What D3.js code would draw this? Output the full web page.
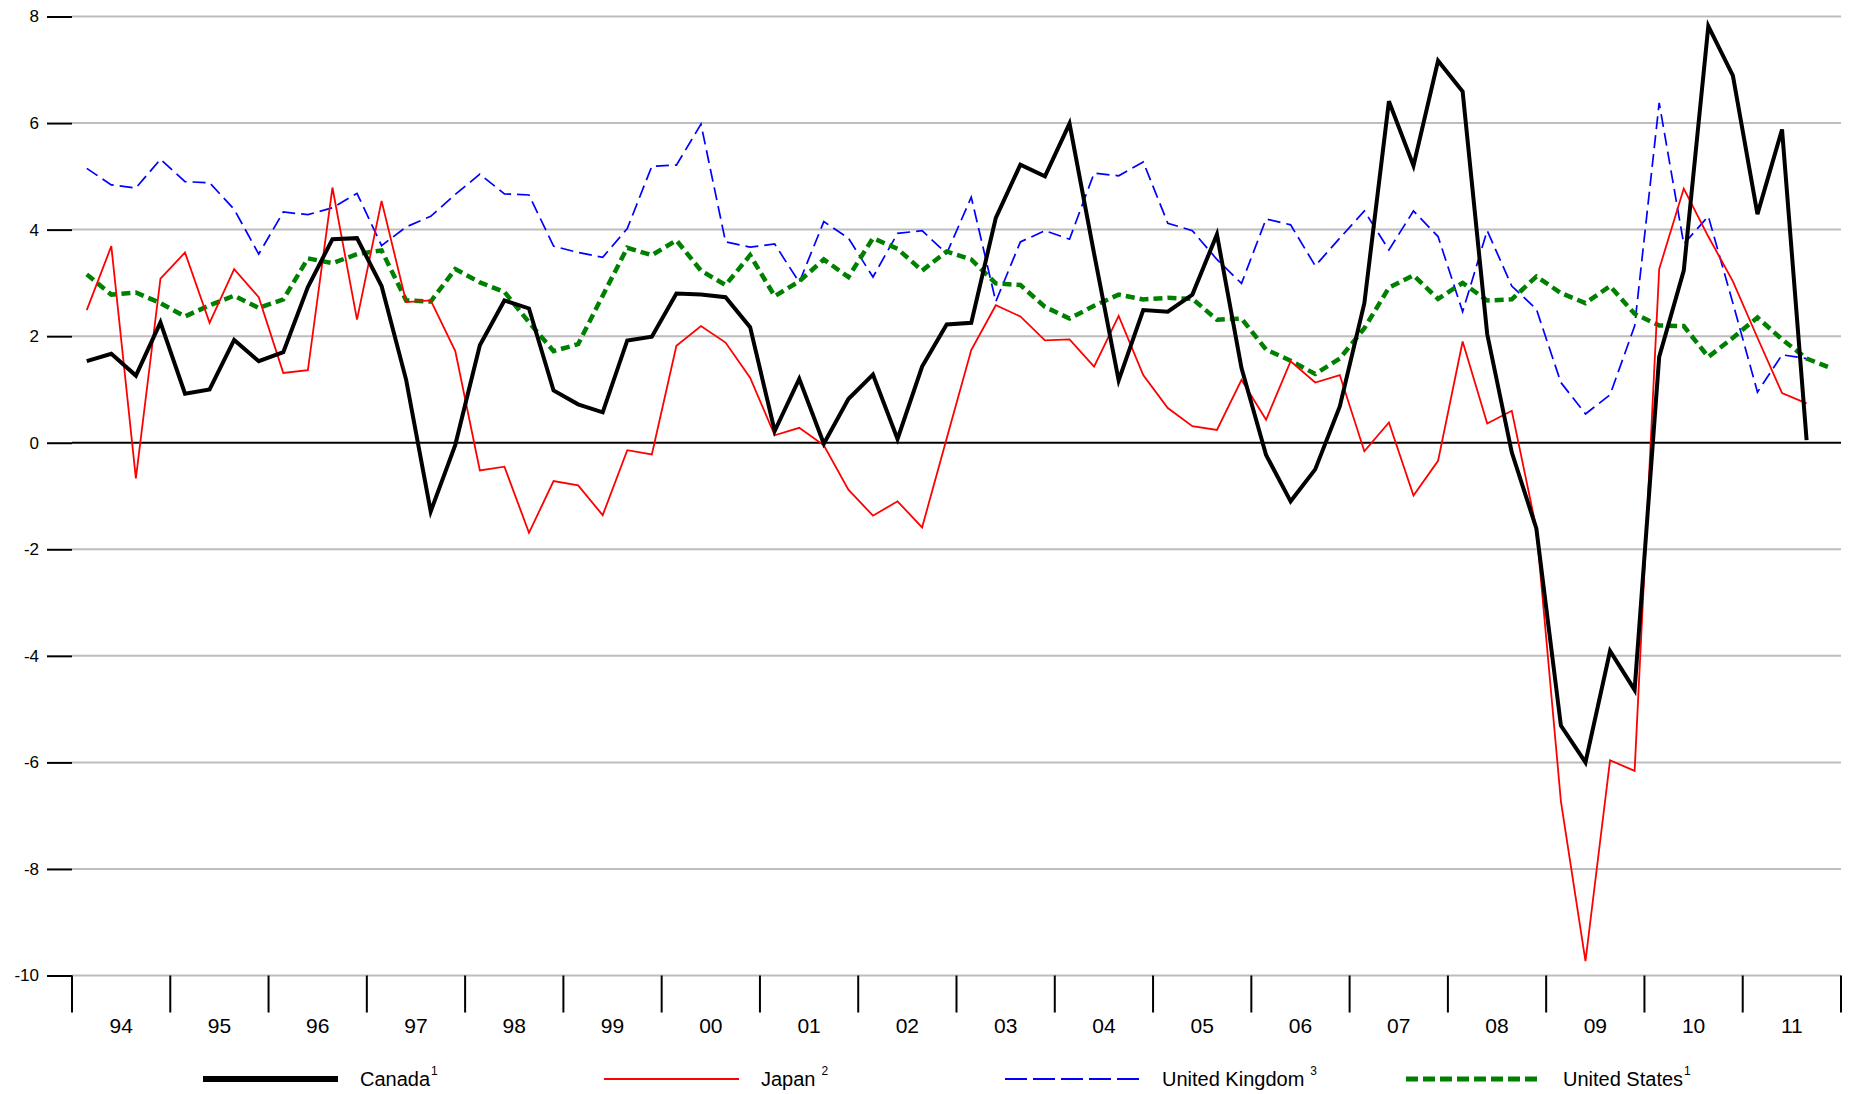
<!DOCTYPE html>
<html>
<head>
<meta charset="utf-8">
<script src="https://cdn.jsdelivr.net/npm/d3@7"></script>
<style>
  body { margin: 0; background: #fff; }
  text { font-family: "Liberation Sans", Arial, sans-serif; fill: #000; }
</style>
</head>
<body>
<script>
// year labels, one per year from 1994 to 2011
var yearLabels = ["94","95","96","97","98","99","00","01","02","03","04","05","06","07","08","09","10","11"];
var yTicks = [8, 6, 4, 2, 0, -2, -4, -6, -8, -10];

// quarterly values, starting 1994 Q1
var canada = [1.53,1.67,1.26,2.26,0.92,1.00,1.93,1.53,1.70,2.92,3.82,3.84,
  2.94,1.18,-1.29,-0.04,1.83,2.67,2.52,0.98,0.72,0.57,1.92,1.99,
  2.80,2.78,2.73,2.17,0.22,1.20,-0.02,0.82,1.28,0.07,1.43,2.22,
  2.25,4.22,5.22,5.00,5.99,3.55,1.17,2.49,2.46,2.78,3.91,1.40,
  -0.23,-1.10,-0.50,0.68,2.62,6.41,5.20,7.17,6.59,2.04,-0.18,-1.61,
  -5.31,-6.00,-3.91,-4.64,1.61,3.23,7.82,6.89,4.29,5.88,0.05];
var japan = [2.49,3.69,-0.67,3.08,3.57,2.25,3.26,2.73,1.31,1.36,4.79,2.31,
  4.54,2.64,2.67,1.72,-0.52,-0.45,-1.69,-0.72,-0.80,-1.36,-0.14,-0.22,
  1.82,2.19,1.88,1.22,0.14,0.28,-0.05,-0.88,-1.37,-1.10,-1.59,0.08,
  1.74,2.58,2.37,1.92,1.94,1.43,2.38,1.27,0.65,0.31,0.24,1.18,
  0.43,1.53,1.13,1.27,-0.16,0.38,-0.99,-0.34,1.90,0.36,0.60,-1.61,
  -6.73,-9.73,-5.96,-6.16,3.26,4.77,3.87,3.03,1.97,0.93,0.74];
var uk = [5.15,4.84,4.78,5.32,4.90,4.88,4.38,3.54,4.33,4.28,4.41,4.68,
  3.70,4.05,4.25,4.66,5.04,4.67,4.65,3.69,3.57,3.48,4.02,5.19,
  5.21,5.98,3.77,3.67,3.73,3.01,4.15,3.84,3.11,3.93,3.98,3.55,
  4.61,2.65,3.77,3.98,3.82,5.06,5.01,5.27,4.12,3.98,3.44,2.99,
  4.20,4.09,3.32,3.84,4.35,3.62,4.35,3.87,2.46,3.98,2.94,2.51,
  1.13,0.54,0.90,2.19,6.38,3.73,4.25,2.62,0.95,1.65,1.58];
var us = [3.16,2.78,2.82,2.62,2.37,2.58,2.76,2.53,2.69,3.46,3.37,3.54,
  3.61,2.67,2.65,3.26,3.01,2.83,2.26,1.72,1.85,2.76,3.66,3.52,
  3.80,3.23,2.96,3.52,2.75,3.03,3.44,3.11,3.84,3.64,3.23,3.59,
  3.44,2.99,2.96,2.55,2.33,2.57,2.78,2.69,2.72,2.70,2.31,2.33,
  1.75,1.54,1.29,1.58,2.15,2.91,3.14,2.70,3.00,2.67,2.69,3.12,
  2.81,2.62,2.94,2.42,2.20,2.19,1.61,1.97,2.35,1.94,1.58,1.40];

var seriesNames = ["Canada", "Japan", "United Kingdom", "United States"];
var seriesNotes = ["1", "2", "3", "1"];

var width = 1852, height = 1094;
var svg = d3.select("body").append("svg").attr("width", width).attr("height", height);

var x = d3.scaleLinear().domain([1994, 2012]).range([72, 1841]);
var y = d3.scaleLinear().domain([-10, 8]).range([975.5, 16.5]);

// grid lines
svg.selectAll("line.grid")
      .data(yTicks.filter(function(d){ return d !== 0; }))
      .enter().append("line")
      .attr("class", "grid")
      .attr("x1", x(1994))
      .attr("x2", x(2012))
      .attr("y1", function(d){ return y(d); })
      .attr("y2", function(d){ return y(d); })
      .attr("stroke", "#bdbdbd")
      .attr("stroke-width", 2);

// y axis: ticks to the left, no domain line, plain hyphen for minus
var yAxis = svg.append("g")
      .attr("transform", "translate(" + x(1994) + ",0)")
      .call(d3.axisLeft(y).tickValues(yTicks).tickSize(25).tickPadding(8)
            .tickFormat(function(d){ return String(d); }));
yAxis.select(".domain").remove();
yAxis.selectAll(".tick line").attr("stroke", "#000").attr("stroke-width", 2);
yAxis.selectAll(".tick text")
      .attr("font-size", 17)
      .attr("font-family", "'Liberation Sans', Arial, sans-serif")
      .attr("fill", "#000");

// zero line
svg.append("line")
      .attr("x1", x(1994))
      .attr("x2", x(2012))
      .attr("y1", y(0))
      .attr("y2", y(0))
      .attr("stroke", "#000")
      .attr("stroke-width", 2);

// x axis: year boundary ticks, labels between them
var years = d3.range(1994, 2013);
svg.selectAll("line.xtick")
      .data(years)
      .enter().append("line")
      .attr("class", "xtick")
      .attr("x1", function(d){ return x(d); })
      .attr("x2", function(d){ return x(d); })
      .attr("y1", y(-10))
      .attr("y2", y(-10) + 37)
      .attr("stroke", "#000")
      .attr("stroke-width", 2);

svg.selectAll("text.xlabel")
      .data(yearLabels)
      .enter().append("text")
      .attr("class", "xlabel")
      .attr("x", function(d, i){ return x(1994 + i + 0.5); })
      .attr("y", 1033)
      .attr("text-anchor", "middle")
      .attr("font-size", 21)
      .text(function(d){ return d; });

// lines
var qx = function(d, i){ return x(1994 + 0.15 + i / 4); };
var line = d3.line().x(qx).y(function(d){ return y(d); });

var styles = [
  {data: canada, color: "#000", w: 4, dash: null, legW: 6, legDash: null},
  {data: japan, color: "#ff0000", w: 1.8, dash: null, legW: 2, legDash: null},
  {data: uk, color: "#0000ff", w: 1.7, dash: "13,6", legW: 2, legDash: "22,6"},
  {data: us, color: "#008000", w: 4.5, dash: "9,5", legW: 5, legDash: "12,5"}
];

// draw in order so Canada sits on top
[2, 3, 1, 0].forEach(function(k){
  var s = styles[k];
  svg.append("path")
      .datum(s.data)
      .attr("d", line)
      .attr("fill", "none")
      .attr("stroke", s.color)
      .attr("stroke-width", s.w)
      .attr("stroke-dasharray", s.dash)
      .attr("stroke-linejoin", "miter");
});

// legend
var legend = svg.selectAll("g.legend")
      .data(seriesNames)
      .enter().append("g")
      .attr("class", "legend")
      .attr("transform", function(d, i){ return "translate(" + (203 + 401 * i) + ",1079)"; });

legend.append("line")
      .attr("x1", 0)
      .attr("x2", 135)
      .attr("y1", 0)
      .attr("y2", 0)
      .attr("stroke", function(d, i){ return styles[i].color; })
      .attr("stroke-width", function(d, i){ return styles[i].legW; })
      .attr("stroke-dasharray", function(d, i){ return styles[i].legDash; });

var lt = legend.append("text")
      .attr("x", 157)
      .attr("y", 7)
      .attr("font-size", 20);
lt.append("tspan").text(function(d){ return d; });
lt.append("tspan")
      .attr("dx", function(d, i){ return (i === 1 || i === 2) ? 6 : 1; })
      .attr("dy", -11)
      .attr("font-size", 12)
      .text(function(d, i){ return seriesNotes[i]; });
</script>
</body>
</html>
